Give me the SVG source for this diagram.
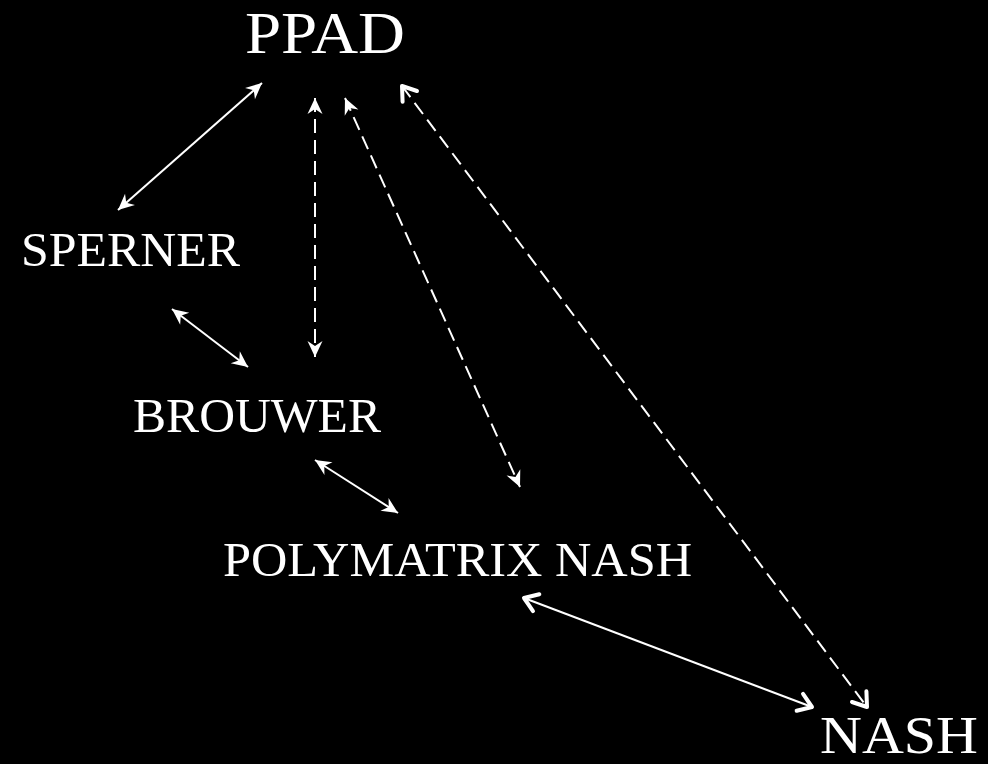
<svg xmlns="http://www.w3.org/2000/svg" width="988" height="764" viewBox="0 0 988 764">
<style>
.lbl{font-family:"Liberation Serif","DejaVu Serif",serif;fill:#fff}
.thin{stroke:#fff;stroke-width:2;fill:none;marker-start:url(#st);marker-end:url(#st)}
.thick{stroke:#fff;stroke-width:2;fill:none;marker-start:url(#ch);marker-end:url(#ch)}
.dash{stroke-dasharray:14 7}
</style>
<defs>
<marker id="st" markerUnits="userSpaceOnUse" viewBox="-18 -9 20 18" refX="0" refY="0" markerWidth="20" markerHeight="18" orient="auto-start-reverse">
<path d="M0,0 L-16,-7.5 L-11,0 L-16,7.5 Z" fill="#fff"/>
</marker>
<marker id="ch" markerUnits="userSpaceOnUse" viewBox="-18 -12 22 24" refX="0" refY="0" markerWidth="22" markerHeight="24" orient="auto-start-reverse">
<path d="M-13,-9 L0,0 L-13,9" fill="none" stroke="#fff" stroke-width="4" stroke-linecap="round" stroke-linejoin="round"/>
</marker>
</defs>
<rect width="988" height="764" fill="#000"/>
<g id="connectors">
<line class="thin" x1="262" y1="83" x2="118" y2="210"/>
<line class="thin" x1="172" y1="309" x2="248" y2="367"/>
<line class="thin dash" x1="315" y1="98" x2="315" y2="357"/>
<line class="thin dash" x1="345" y1="98" x2="520" y2="487"/>
<line class="thin" x1="315" y1="460" x2="398" y2="513"/>
<line class="thick" x1="524" y1="598" x2="812" y2="707"/>
<line class="thick dash" x1="402" y1="86" x2="867" y2="707"/>
</g>
<g id="ppad"><text class="lbl" x="245" y="53" font-size="59" textLength="160" lengthAdjust="spacingAndGlyphs">PPAD</text></g>
<g id="sperner"><text class="lbl" x="21" y="266" font-size="48" textLength="219" lengthAdjust="spacingAndGlyphs">SPERNER</text></g>
<g id="brouwer"><text class="lbl" x="133" y="432" font-size="48" textLength="248" lengthAdjust="spacingAndGlyphs">BROUWER</text></g>
<g id="polymatrix"><text class="lbl" x="223" y="576" font-size="49" textLength="469" lengthAdjust="spacingAndGlyphs">POLYMATRIX NASH</text></g>
<g id="nash"><text class="lbl" x="820" y="753" font-size="53" textLength="158" lengthAdjust="spacingAndGlyphs">NASH</text></g>
</svg>
